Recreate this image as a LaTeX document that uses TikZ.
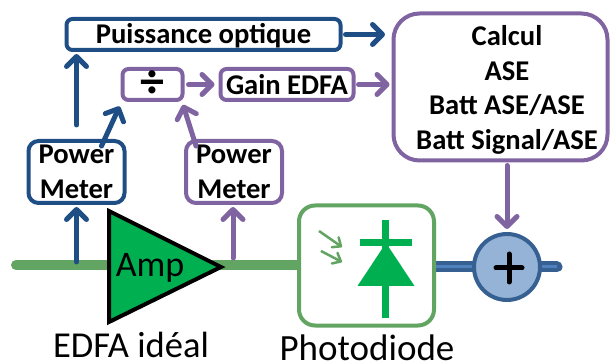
\documentclass[tikz,border=0pt]{standalone}
\usepackage{fontspec}
\setmainfont{Carlito}
\usetikzlibrary{arrows.meta,positioning,shapes.geometric}
\definecolor{bleu}{HTML}{1F4E85}
\definecolor{violet}{HTML}{8064A2}
\definecolor{vert}{HTML}{62A562}
\definecolor{ampvert}{HTML}{00B050}
\definecolor{sumbord}{HTML}{366092}
\definecolor{sumfond}{HTML}{95B3D7}
\definecolor{bleuclair}{HTML}{4F81BD}
\tikzset{
  flow/.style={draw,line width=4pt,rounded corners=6pt,align=center,inner sep=0pt,outer sep=0pt,
    fill=white,text=black,font=\fontsize{28.6}{34.5}\selectfont\bfseries},
  bluebox/.style={flow,draw=bleu},
  purplebox/.style={flow,draw=violet},
  arrow/.style={-{Straight Barb[length=10pt,width=20pt,round]},line width=5pt,line cap=round},
  bluearrow/.style={arrow,draw=bleu},
  purplearrow/.style={arrow,draw=violet},
  caption/.style={font=\fontsize{37}{40}\selectfont,inner sep=0pt,anchor=base},
  fibre/.style={draw=vert,line width=10pt,line cap=round},
  smallarrow/.style={-{Straight Barb[length=7pt,width=12pt,round]},draw=vert,line width=2.5pt}
}
\begin{document}
\begin{tikzpicture}[x=1pt,y=-1pt]
\useasboundingbox (0,0) rectangle (613,363);
% fibres
\coordinate (start) at (16,265);
\coordinate (stop) at (557,267);
\draw[fibre] (start)--(300,265);
\draw[draw=sumbord,line width=11pt,line cap=round] (435,267)--(stop);
\draw[draw=bleuclair,line width=3pt] (435,267)--(stop);
% boxes
\node[bluebox,minimum width=274pt,minimum height=31pt,text depth=3pt] (puis) at (203.5,34.5) {Puissance optique};
\node[purplebox,minimum width=60pt,minimum height=31pt] (div) at (152.5,84.5) {\fontsize{48}{48}\selectfont ÷};
\node[purplebox,minimum width=133pt,minimum height=31pt] (gain) at (287,84.5) {Gain EDFA};
\node[bluebox,minimum width=96pt,minimum height=62pt,rounded corners=10pt] (pma) at (76.5,172) {Power\\Meter};
\node[purplebox,minimum width=96pt,minimum height=62pt,rounded corners=10pt] (pmb) at (234,172) {Power\\Meter};
\node[purplebox,minimum width=214pt,minimum height=147pt,rounded corners=26pt] (calc) at (500.5,87) {};
\node[align=center,inner sep=0pt,font=\fontsize{28.6}{34.5}\selectfont\bfseries] (calctext) at (507,90) {Calcul\\ASE\\Batt ASE/ASE\\Batt Signal/ASE};
% amplifier
\coordinate (ampa) at (109,211);
\coordinate (ampb) at (109,322);
\coordinate (ampc) at (221,267);
\draw[fill=ampvert,line width=4pt,line join=miter] (ampa)--(ampc)--(ampb)--cycle;
\node[caption,font=\fontsize{36}{40}\selectfont] (amp) at (150,277) {Amp};
\node[caption,font=\fontsize{36.5}{40}\selectfont] (edfa) at (131,357) {EDFA idéal};
% photodiode
\node[draw=vert,line width=4pt,rounded corners=16pt,fill=white,minimum width=135pt,minimum height=120pt,outer sep=0pt] (pd) at (366.5,265.5) {};
\node[caption] (pdlabel) at (367,360) {Photodiode};
\coordinate (diodetop) at (385.5,220);
\coordinate (diodebot) at (385.5,318);
\draw[draw=ampvert,line width=7pt] (diodetop)--(diodebot);
\draw[draw=ampvert,line width=7pt] (360,242.5)--(412,242.5);
\fill[ampvert] (386,243)--(414.5,286)--(357.5,286)--cycle;
\draw[smallarrow] (319,231)--(342,247);
\draw[smallarrow] (321,251)--(342,262);
% somme
\node[circle,draw=sumbord,line width=4pt,fill=sumfond,minimum size=66pt,inner sep=0pt,outer sep=0pt] (sum) at (507,267) {};
\draw[line width=5pt,line cap=round] (496,268)--(522,268);
\draw[line width=5pt,line cap=round] (509,254)--(509,282);
% arrows
\coordinate (tapa) at (76.5,262);
\coordinate (tapb) at (233,258);
\draw[bluearrow,shorten >=4pt] (tapa)--(pma.south);
\draw[purplearrow,shorten >=4pt] (tapb)--(233,203);
\draw[bluearrow,shorten <=16pt,shorten >=4pt] (pma.north)--(pma.north |- puis.south);
\draw[bluearrow,shorten >=7pt] ([xshift=25pt,yshift=-5pt]pma.north)--(div.south west);
\draw[purplearrow,shorten >=5pt] ([xshift=-38pt,yshift=-5pt]pmb.north)--([xshift=-1pt]div.south east);
\draw[bluearrow] ([xshift=5pt]puis.east)--(385,34.5);
\draw[purplearrow,shorten <=6pt,shorten >=6pt] (div.east)--(gain.west);
\draw[purplearrow,shorten <=5pt,shorten >=4pt] (gain.east)--(gain.east -| calc.west);
\draw[purplearrow,shorten <=5pt,shorten >=5pt] (calc.south -| sum.north)--(sum.north);
\end{tikzpicture}
\end{document}
